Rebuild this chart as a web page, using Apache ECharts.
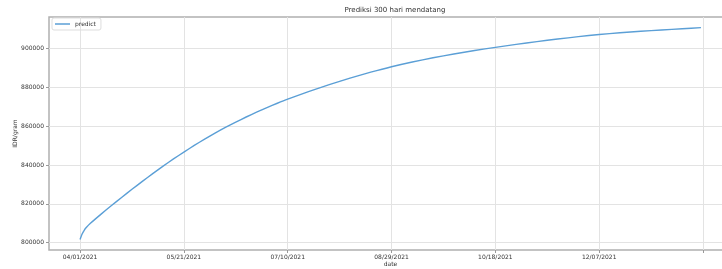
<!DOCTYPE html>
<html>
<head>
<meta charset="utf-8">
<script src="https://cdn.jsdelivr.net/npm/echarts@6/dist/echarts.min.js"></script>
<style>
html, body { margin: 0; padding: 0; background: #fff; }
#chart { width: 722px; height: 269px; }
</style>
</head>
<body>
<div id="chart"></div>
<script>
// prediksi harga (IDR/gram)
var dates = [
  '2021-04-01','2021-04-02','2021-04-03','2021-04-04','2021-04-06','2021-04-11','2021-04-16','2021-04-21',
  '2021-04-26','2021-05-01','2021-05-06','2021-05-11','2021-05-16','2021-05-21','2021-05-26','2021-05-31',
  '2021-06-05','2021-06-10','2021-06-15','2021-06-20','2021-06-25','2021-06-30','2021-07-05','2021-07-10',
  '2021-07-20','2021-07-30','2021-08-09','2021-08-19','2021-08-29','2021-09-08','2021-09-18','2021-09-28',
  '2021-10-08','2021-10-18','2021-10-28','2021-11-07','2021-11-17','2021-11-27','2021-12-07','2021-12-17',
  '2021-12-27','2022-01-06','2022-01-16','2022-01-25'
];
var predict = [
  801700, 804500, 806400, 807800, 810000, 814600, 819000, 823300,
  827500, 831600, 835600, 839450, 843150, 846700, 850100, 853350,
  856450, 859400, 862150, 864750, 867225, 869575, 871825, 873950,
  877850, 881400, 884750, 887830, 890650, 893100, 895250, 897200,
  899000, 900600, 902150, 903580, 904900, 906120, 907270, 908110,
  908880, 909580, 910220, 910780
];
var tickDates = ['2021-04-01','2021-05-21','2021-07-10','2021-08-29','2021-10-18','2021-12-07','2022-01-26'];
var tickLabels = ['04/01/2021','05/21/2021','07/10/2021','08/29/2021','10/18/2021','12/07/2021'];
var yTicks = [800000, 820000, 840000, 860000, 880000, 900000];

function ts(d) {
  var p = d.split('-');
  return Date.UTC(+p[0], +p[1] - 1, +p[2]);
}
var DAY = 86400000;
var tickTs = tickDates.map(ts);
var labelMap = {};
tickLabels.forEach(function (l, i) { labelMap[tickTs[i]] = l; });

var myChart = echarts.init(document.getElementById('chart'));
var font = 'DejaVu Sans';

var option = {
  backgroundColor: '#fff',
  animation: false,
  title: {
    text: 'Prediksi 300 hari mendatang',
    left: 390, top: 2,
    textAlign: 'center',
    textStyle: { fontFamily: font, fontSize: 7, fontWeight: 'normal', color: '#333' }
  },
  legend: {
    left: 52, top: 18,
    padding: [3, 5, 3, 3],
    borderColor: '#ddd', borderWidth: 1, borderRadius: 2,
    icon: 'rect', itemWidth: 15, itemHeight: 1.5, itemGap: 4,
    textStyle: { fontFamily: font, fontSize: 6, color: '#333' },
    data: ['predict']
  },
  grid: {
    left: 49, top: 17, right: -10, bottom: 19,
    outerBoundsMode: 'none',
    containLabel: false,
    show: true, borderColor: '#b0b0b0', borderWidth: 1.5
  },
  xAxis: {
    type: 'value',
    min: tickTs[0] - 14.95 * DAY,
    max: tickTs[0] + 313.95 * DAY,
    name: 'date',
    nameLocation: 'middle',
    nameGap: 11,
    nameMoveOverlap: false,
    nameTextStyle: { fontFamily: font, fontSize: 6, color: '#333' },
    axisLine: { show: false },
    axisTick: { length: 3, lineStyle: { color: '#999' }, customValues: tickTs },
    axisLabel: {
      customValues: tickTs.slice(0, tickLabels.length),
      fontFamily: font, fontSize: 6, color: '#333', margin: 4,
      formatter: function (v) { return labelMap[v] || ''; }
    },
    splitLine: { show: true, lineStyle: { color: '#e3e3e3', width: 1 } }
  },
  yAxis: {
    type: 'value',
    min: 796245, max: 916255,
    name: 'IDR/gram',
    nameLocation: 'middle',
    nameGap: 31,
    nameMoveOverlap: false,
    nameTextStyle: { fontFamily: font, fontSize: 6, color: '#333' },
    axisLine: { show: false },
    axisTick: { length: 3, lineStyle: { color: '#999' }, customValues: yTicks },
    axisLabel: {
      customValues: yTicks, fontFamily: font, fontSize: 6, color: '#333', margin: 5,
      formatter: function (v) { return String(v); }
    },
    splitLine: { show: true, lineStyle: { color: '#e3e3e3', width: 1 } }
  },
  series: [{
    name: 'predict',
    type: 'line',
    smooth: 0.2,
    symbol: 'none',
    itemStyle: { color: '#5b9fd6' },
    lineStyle: { color: '#5b9fd6', width: 1.4 },
    data: dates.map(function (d, i) { return [ts(d), predict[i]]; })
  }]
};

myChart.setOption(option);

window.addEventListener('resize', function () {
  myChart.resize();
});
</script>
</body>
</html>
